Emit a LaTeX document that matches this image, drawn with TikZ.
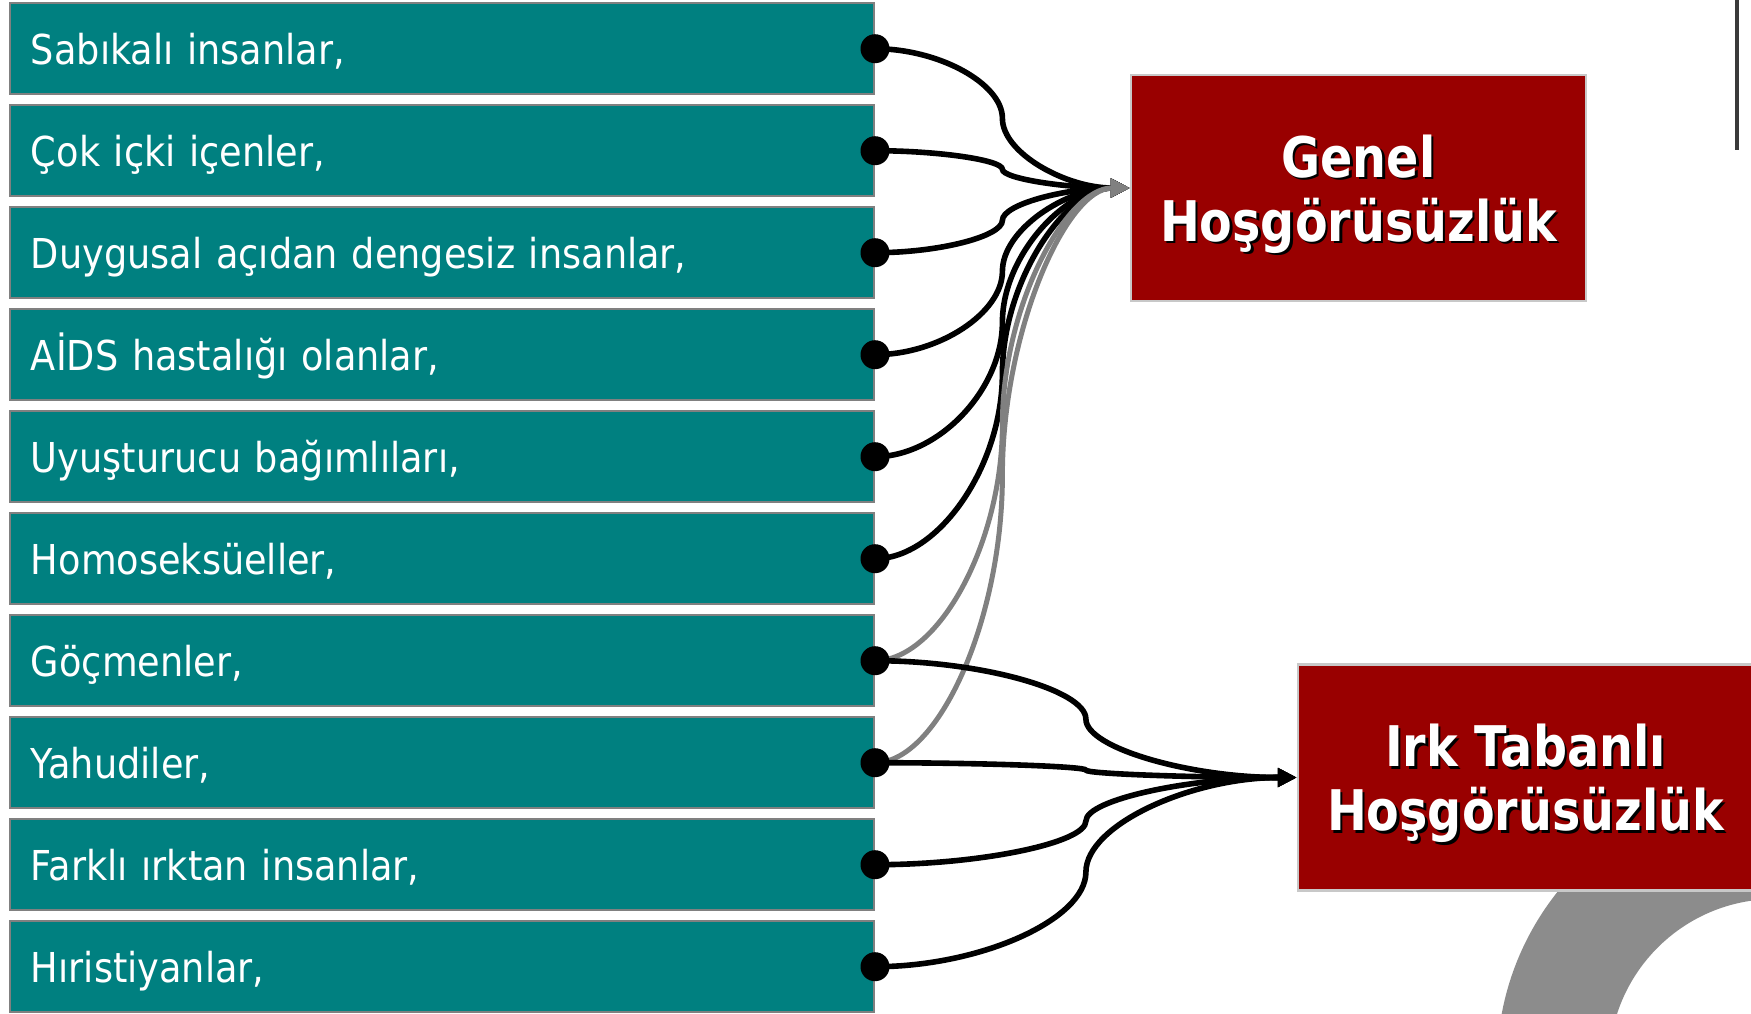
\documentclass[tikz,border=0pt]{standalone}
\usepackage{fontspec}
\setmainfont{DejaVu Sans}[FakeStretch=0.89]
\newfontfamily\titlefont{DejaVu Sans}[FakeStretch=0.85]
\usetikzlibrary{arrows.meta,calc}
\definecolor{boxteal}{HTML}{008080}
\definecolor{boxred}{HTML}{990000}
\definecolor{boxline}{HTML}{808080}
\definecolor{boxedge}{HTML}{C8C8C8}
\definecolor{ringgray}{HTML}{8C8C8C}
\definecolor{rulegray}{HTML}{3A3A3A}
\definecolor{linegray}{HTML}{808080}
\tikzset{
  grp/.style={draw=boxline, line width=1pt, fill=boxteal, text=white,
    minimum width=432pt, minimum height=45.3pt, inner xsep=10.5pt, inner ysep=0pt,
    text width=411pt, align=left, text height=20pt, text depth=4pt,
    font=\fontsize{20.6pt}{24pt}\selectfont},
  hb/.style={draw=boxedge, line width=1.2pt, fill=boxred,
    minimum width=227.5pt, minimum height=113pt, inner sep=0pt},
  ttl/.style={text=white, align=center, yshift=-3pt,
    font=\titlefont\bfseries\fontsize{28pt}{32pt}\selectfont},
  ttlsh/.style={ttl, text=black, xshift=1.2pt, yshift=-1.2pt},
  dot/.style={circle, fill=black, minimum size=14.5pt, inner sep=0pt},
  conn/.style={line width=2.8pt, -{Triangle[length=9.5pt,width=9pt]},
    to path={let \p1=(\tikztostart), \p2=(\tikztotarget),
      \p3=($(\p1)!0.5!(\p2)$) in
      .. controls ({(\x1+\x3)/2},\y1) and (\x3,{\y1+(\y2-\y1)/4}) .. (\x3,\y3)
      .. controls (\x3,{\y3+(\y2-\y1)/4}) and ({(\x3+\x2)/2},\y2) .. (\tikztotarget)}}
}
\begin{document}
\begin{tikzpicture}[x=0.5pt, y=-0.5pt]
  \useasboundingbox (0,0) rectangle (1751,1013);
  \begin{scope}
    \clip (0,0) rectangle (1751,1013);
    \fill[ringgray, even odd rule] (1775,1065) circle[radius=139pt] circle[radius=83pt];
  \end{scope}
  \draw[line width=2pt, draw=rulegray] (1737,0) -- (1737,150);

  \node[grp] (g1) at (442,48.7) {Sabıkalı insanlar,};
  \node[grp] (g2) at (442,150.7) {Çok içki içenler,};
  \node[grp] (g3) at (442,252.7) {Duygusal açıdan dengesiz insanlar,};
  \node[grp] (g4) at (442,354.7) {AİDS hastalığı olanlar,};
  \node[grp] (g5) at (442,456.7) {Uyuşturucu bağımlıları,};
  \node[grp] (g6) at (442,558.7) {Homoseksüeller,};
  \node[grp] (g7) at (442,660.7) {Göçmenler,};
  \node[grp] (g8) at (442,762.7) {Yahudiler,};
  \node[grp] (g9) at (442,864.7) {Farklı ırktan insanlar,};
  \node[grp] (g10) at (442,966.7) {Hıristiyanlar,};

  \node[hb] (genel) at (1358.5,188) {};
  \node[ttlsh] at (genel.center) {Genel\\Hoşgörüsüzlük};
  \node[ttl] (genelt) at (genel.center) {Genel\\Hoşgörüsüzlük};
  \node[hb] (irk) at (1525.5,777.5) {};
  \node[ttlsh] at (irk.center) {Irk Tabanlı\\Hoşgörüsüzlük};
  \node[ttl] (irkt) at (irk.center) {Irk Tabanlı\\Hoşgörüsüzlük};

  \draw[conn] (g1.east) to (genel.west);
  \draw[conn] (g2.east) to (genel.west);
  \draw[conn] (g3.east) to (genel.west);
  \draw[conn] (g4.east) to (genel.west);
  \draw[conn] (g5.east) to (genel.west);
  \draw[conn] (g6.east) to (genel.west);
  \draw[conn, draw=linegray, line width=2.5pt] (g7.east) to (genel.west);
  \draw[conn, draw=linegray, line width=2.5pt] (g8.east) to (genel.west);
  \draw[conn] (g7.east) to (irk.west);
  \draw[conn] (g8.east) to (irk.west);
  \draw[conn] (g9.east) to (irk.west);
  \draw[conn] (g10.east) to (irk.west);

  \node[dot] (d1) at (g1.east) {};
  \node[dot] (d2) at (g2.east) {};
  \node[dot] (d3) at (g3.east) {};
  \node[dot] (d4) at (g4.east) {};
  \node[dot] (d5) at (g5.east) {};
  \node[dot] (d6) at (g6.east) {};
  \node[dot] (d7) at (g7.east) {};
  \node[dot] (d8) at (g8.east) {};
  \node[dot] (d9) at (g9.east) {};
  \node[dot] (d10) at (g10.east) {};
\end{tikzpicture}
\end{document}
